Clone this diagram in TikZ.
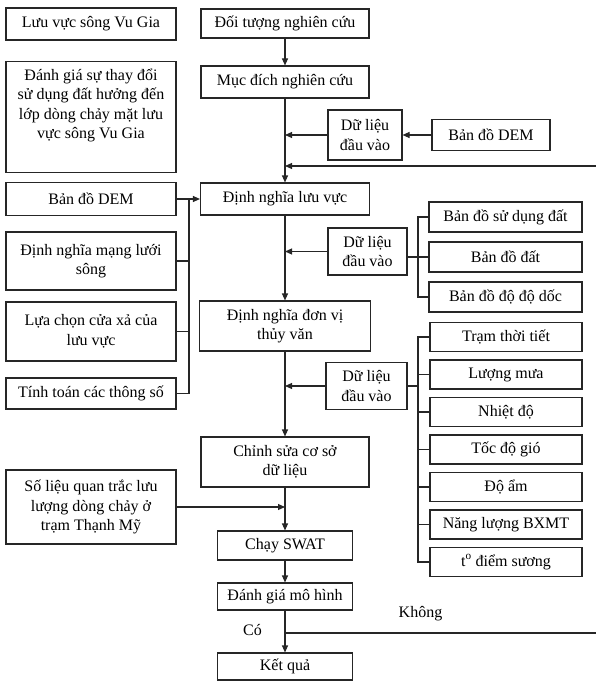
\documentclass[tikz,border=0pt]{standalone}
\usepackage{fontspec}
\setmainfont{Liberation Serif}
\usetikzlibrary{arrows.meta}
\tikzset{
  >={Triangle[length=7pt,width=6pt]},
  box/.style={
    draw=black!85, line width=1.1pt, fill=white,
    align=center, inner sep=2pt, minimum width=#1
  },
  box/.default=170,
  arr/.style={->, line width=1.1pt, draw=black!85},
  link/.style={line width=1.1pt, draw=black!85},
  tag/.style={inner sep=1pt}
}

\begin{document}
\begin{tikzpicture}[x=1pt,y=-1pt,font=\fontsize{16}{19.5}\selectfont]
  \useasboundingbox (0,0) rectangle (595,682);
  % left column
  \node[box,minimum height=32] (vugia) at (91,24) {Lưu vực sông Vu Gia};
  \node[box,minimum height=111,anchor=north] (danhgia) at (91,61) {\parbox[t][103pt][t]{165pt}{\centering\vspace*{3pt}Đánh giá sự thay đổi\\sử dụng đất hưởng đến\\lớp dòng chảy mặt lưu\\vực sông Vu Gia}};
  \node[box,minimum height=33] (deml) at (91,199) {Bản đồ DEM};
  \node[box,minimum height=58] (mangluoi) at (91,261) {Định nghĩa mạng lưới\\sông};
  \node[box,minimum height=59] (cuaxa) at (91,331.5) {Lựa chọn cửa xả của\\lưu vực};
  \node[box,minimum height=31] (thongso) at (91,393.5) {Tính toán các thông số};
  \node[box,minimum height=74] (solieu) at (91,507) {Số liệu quan trắc lưu\\lượng dòng chảy ở\\trạm Thạnh Mỹ};
  % main column
  \node[box=168,minimum height=29] (doituong) at (285,23.5) {Đối tượng nghiên cứu};
  \node[box=168,minimum height=32] (mucdich) at (285,82) {Mục đích nghiên cứu};
  \node[box=169,minimum height=32] (lvuc) at (285,199) {Định nghĩa lưu vực};
  \node[box=171,minimum height=50] (donvi) at (285,326) {Định nghĩa đơn vị\\thủy văn};
  \node[box=168,minimum height=50] (csdl) at (285,462) {Chỉnh sửa cơ sở\\dữ liệu};
  \node[box=135,minimum height=29] (swat) at (285,545.5) {Chạy SWAT};
  \node[box=135,minimum height=27] (danhgiamh) at (285,596.5) {Đánh giá mô hình};
  \node[box=135,minimum height=27] (ketqua) at (285,666.5) {Kết quả};
  % inputs
  \node[box=74,minimum height=50] (input1) at (365,135) {Dữ liệu\\đầu vào};
  \node[box=118,minimum height=31] (demr) at (491,135) {Bản đồ DEM};
  \node[box=79,minimum height=47] (input2) at (367.5,251.5) {Dữ liệu\\đầu vào};
  \node[box=153,minimum height=30] (sudung) at (505.5,217) {Bản đồ sử dụng đất};
  \node[box=153,minimum height=30] (dat) at (505.5,257) {Bản đồ đất};
  \node[box=153,minimum height=30] (dodoc) at (505.5,297) {Bản đồ độ độ dốc};
  \node[box=81,minimum height=47] (input3) at (366.5,386) {Dữ liệu\\đầu vào};
  \node[box=152,minimum height=29] (tram) at (506,337) {Trạm thời tiết};
  \node[box=152,minimum height=29] (mua) at (506,374.5) {Lượng mưa};
  \node[box=152,minimum height=29] (nhiet) at (506,412) {Nhiệt độ};
  \node[box=152,minimum height=29] (gio) at (506,449.5) {Tốc độ gió};
  \node[box=152,minimum height=29] (doam) at (506,487) {Độ ẩm};
  \node[box=152,minimum height=29] (bxmt) at (506,524.5) {Năng lượng BXMT};
  \node[box=152,minimum height=29] (suong) at (506,562) {t\textsuperscript{o} điểm sương};
  % labels
  \node[tag] (co) at (252.5,630) {Có};
  \node[tag] (khong) at (420.5,614) {Không};

  \coordinate (spine) at (285,0);
  \coordinate (lbrk) at (189,0);
  \coordinate (rbrk) at (418,0);
  \coordinate (back) at (598,0);
  \coordinate (fork) at (285,633);
  \coordinate (rejoin) at (285,166);

  % main flow
  \draw[arr] (doituong) -- (mucdich);
  \draw[arr] (mucdich) -- (lvuc);
  \draw[arr] (lvuc) -- (donvi);
  \draw[arr] (donvi) -- (csdl);
  \draw[arr] (csdl) -- (swat);
  \draw[arr] (swat) -- (danhgiamh);
  \draw[arr] (danhgiamh) -- (ketqua);
  \draw[arr] (fork) -- (fork -| back) -- (rejoin -| back) -- (rejoin);
  % side inputs
  \draw[arr] (demr) -- (input1);
  \draw[arr] (input1) -- (input1 -| spine);
  \draw[arr] (input2) -- (input2 -| spine);
  \draw[arr] (input3) -- (input3 -| spine);
  \draw[arr] (solieu) -- (solieu -| spine);
  \draw[arr] (deml) -- (lvuc);
  \draw[link] (thongso.east) -| (deml.east -| lbrk);
  \draw[link] (mangluoi.east) -- (mangluoi.east -| lbrk);
  \draw[link] (cuaxa.east) -- (cuaxa.east -| lbrk);
  \draw[link] (sudung.west) -| (dodoc.west -| rbrk) -- (dodoc.west);
  \draw[link] (dat.west) -- (dat.west -| input2.east);
  \draw[link] (tram.west) -| (suong.west -| rbrk) -- (suong.west);
  \draw[link] (mua.west) -- (mua.west -| rbrk);
  \draw[link] (nhiet.west) -- (nhiet.west -| rbrk);
  \draw[link] (gio.west) -- (gio.west -| rbrk);
  \draw[link] (doam.west) -- (doam.west -| rbrk);
  \draw[link] (bxmt.west) -- (bxmt.west -| rbrk);
  \draw[link] (input3.east) -- (input3.east -| rbrk);
\end{tikzpicture}
\end{document}
